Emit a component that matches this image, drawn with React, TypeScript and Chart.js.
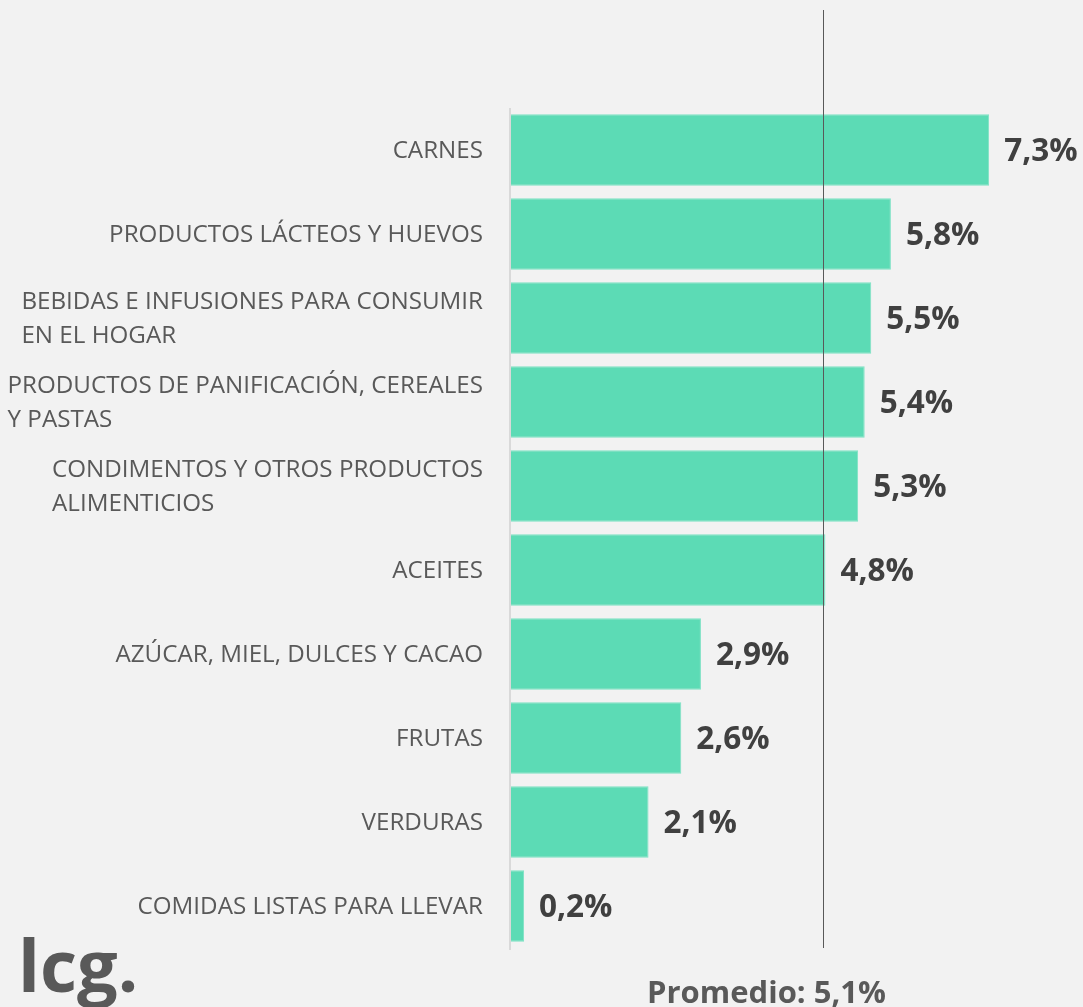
import React, { useEffect, useRef } from "react";
import { Chart, registerables } from "chart.js";

Chart.register(...registerables);

const categoryLines: string[][] = [
  ["CARNES"],
  ["PRODUCTOS LÁCTEOS Y HUEVOS"],
  ["BEBIDAS E INFUSIONES PARA CONSUMIR", "EN EL HOGAR"],
  ["PRODUCTOS DE PANIFICACIÓN, CEREALES", "Y PASTAS"],
  ["CONDIMENTOS Y OTROS PRODUCTOS", "ALIMENTICIOS"],
  ["ACEITES"],
  ["AZÚCAR, MIEL, DULCES Y CACAO"],
  ["FRUTAS"],
  ["VERDURAS"],
  ["COMIDAS LISTAS PARA LLEVAR"],
];

const values: number[] = [7.3, 5.8, 5.5, 5.4, 5.3, 4.8, 2.9, 2.6, 2.1, 0.2];

const averageLinePosition = 4.77;
const averageLabel = "Promedio: 5,1%";
const logoText = "lcg.";

const BG = "#f2f2f2";
const BAR = "#5cdbb5";
const LABEL_GRAY = "#595959";
const VALUE_DARK = "#404040";
const FONT = "'Open Sans', 'DejaVu Sans', sans-serif";

const fmt = (v: number) => v.toFixed(1).replace(".", ",") + "%";

const decorPlugin = {
  id: "decor",
  beforeDraw(chart: any) {
    const ctx = chart.ctx;
    ctx.save();
    ctx.fillStyle = BG;
    ctx.fillRect(0, 0, chart.width, chart.height);
    ctx.restore();
  },
  afterDatasetsDraw(chart: any) {
    const ctx = chart.ctx;
    const { chartArea } = chart;
    const xs = chart.scales.x;
    const meta = chart.getDatasetMeta(0);
    ctx.save();

    // axis line
    ctx.strokeStyle = "#d9d9d9";
    ctx.lineWidth = 2;
    ctx.beginPath();
    ctx.moveTo(chartArea.left - 1, chartArea.top);
    ctx.lineTo(chartArea.left - 1, chartArea.bottom + 2);
    ctx.stroke();

    // average line
    const ax = Math.round(xs.getPixelForValue(averageLinePosition)) + 0.5;
    ctx.strokeStyle = "#595959";
    ctx.lineWidth = 1;
    ctx.beginPath();
    ctx.moveTo(ax, 10);
    ctx.lineTo(ax, chartArea.bottom);
    ctx.stroke();

    // value labels
    ctx.fillStyle = VALUE_DARK;
    ctx.font = `bold 31.5px ${FONT}`;
    ctx.textAlign = "left";
    ctx.textBaseline = "middle";
    meta.data.forEach((bar: any, i: number) => {
      ctx.fillText(fmt(values[i]), bar.x + 15, bar.y + 2);
    });

    // category labels
    ctx.fillStyle = LABEL_GRAY;
    ctx.font = `24.2px ${FONT}`;
    ctx.textAlign = "left";
    ctx.textBaseline = "middle";
    const lineH = 34;
    meta.data.forEach((bar: any, i: number) => {
      const lines = categoryLines[i];
      const w = Math.max(...lines.map((l) => ctx.measureText(l).width));
      const x0 = chartArea.left - 28 - w;
      const y0 = bar.y - ((lines.length - 1) * lineH) / 2;
      lines.forEach((l, j) => {
        if (lines.length === 1) {
          ctx.textAlign = "right";
          ctx.fillText(l, chartArea.left - 28, y0 + 1);
          ctx.textAlign = "left";
        } else {
          ctx.fillText(l, x0, y0 + j * lineH + 1);
        }
      });
    });

    // average label
    ctx.fillStyle = LABEL_GRAY;
    ctx.font = `bold 31px ${FONT}`;
    ctx.textAlign = "center";
    ctx.textBaseline = "alphabetic";
    ctx.fillText(averageLabel, ax - 57, 1003);

    // logo
    ctx.font = `bold 72px ${FONT}`;
    ctx.textAlign = "left";
    ctx.fillText(logoText, 18, 992);

    ctx.restore();
  },
};

export default function App() {
  const ref = useRef<HTMLCanvasElement>(null);
  useEffect(() => {
    document.body.style.margin = "0";
    const chart = new Chart(ref.current as HTMLCanvasElement, {
      type: "bar",
      data: {
        labels: categoryLines.map((l) => l.join(" ")),
        datasets: [
          {
            data: values,
            backgroundColor: BAR,
            borderColor: "#7fe2c5",
            borderWidth: 1,
            barPercentage: 0.85,
            categoryPercentage: 1,
          },
        ],
      },
      options: {
        indexAxis: "y",
        responsive: false,
        animation: false,
        devicePixelRatio: 1,
        layout: { padding: { left: 511, right: 48, top: 108, bottom: 59 } },
        scales: {
          x: { display: false, min: 0, max: 8 },
          y: { display: false },
        },
        plugins: { legend: { display: false }, tooltip: { enabled: false } },
      },
      plugins: [decorPlugin],
    });
    return () => chart.destroy();
  }, []);
  return <canvas ref={ref} width={1083} height={1007} style={{ display: "block" }} />;
}
